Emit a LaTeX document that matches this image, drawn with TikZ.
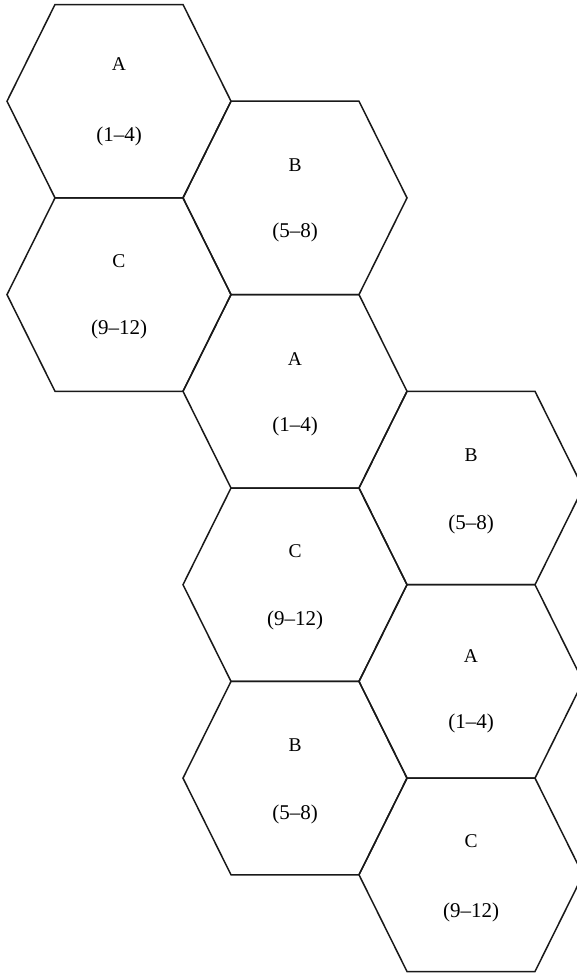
\documentclass[tikz,border=0pt]{standalone}
\usepackage{fontspec}
\setmainfont{Liberation Serif}
\tikzset{
  hexline/.style={draw=black!90, line width=1.5pt, line join=miter},
  hexletter/.style={anchor=base, inner sep=0pt, font=\fontsize{19.5}{22}\selectfont},
  hexrange/.style={anchor=base, inner sep=0pt, font=\fontsize{21}{24}\selectfont}
}
\begin{document}
\begin{tikzpicture}[x=1pt, y=-1pt]
\useasboundingbox (0,0) rectangle (577,975);
\clip (0,0) rectangle (577,975);
\foreach \n/\cx/\cy/\L/\R/\lo/\ro in {
  A1/119/101.2/A/{(1–4)}/-30.5/40.5,
  B1/295/197.9/B/{(5–8)}/-26.5/39.5,
  C1/119/294.6/C/{(9–12)}/-27.5/40,
  A2/295/391.3/A/{(1–4)}/-25.5/40.5,
  B2/471/488.0/B/{(5–8)}/-26.5/41,
  C2/295/584.7/C/{(9–12)}/-27.5/40.5,
  A3/471/681.4/A/{(1–4)}/-18.5/47,
  B3/295/778.1/B/{(5–8)}/-26.5/41,
  C3/471/874.8/C/{(9–12)}/-27.5/43}
{
  \draw[hexline] (\cx-112,\cy) -- (\cx-64,\cy-96.7) -- (\cx+64,\cy-96.7)
    -- (\cx+112,\cy) -- (\cx+64,\cy+96.7) -- (\cx-64,\cy+96.7) -- cycle;
  \node[hexletter] (\n-letter) at (\cx,\cy+\lo) {\L};
  \node[hexrange] (\n-range) at (\cx,\cy+\ro) {\R};
}
\end{tikzpicture}
\end{document}
